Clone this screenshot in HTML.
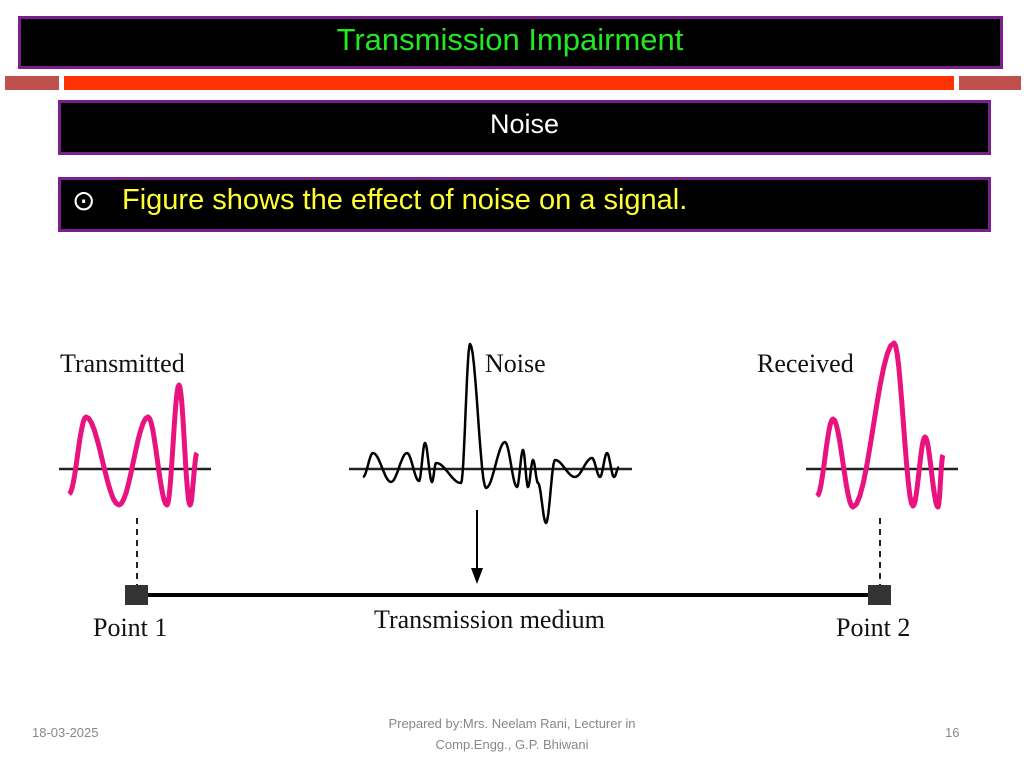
<!DOCTYPE html>
<html><head><meta charset="utf-8"><style>
body{margin:0;width:1024px;height:768px;background:#fff;position:relative;overflow:hidden;font-family:"Liberation Sans",sans-serif}
.box{position:absolute;box-sizing:border-box;background:#000;border:3px solid #7b1f8c}
.t{position:absolute;white-space:nowrap}
.serif{font-family:"Liberation Serif",serif;color:#111;font-size:26px}
</style></head><body>
<div class="box" style="left:18px;top:16px;width:985px;height:53px"></div>
<div class="t" style="left:0;width:1020px;text-align:center;top:22px;color:#22e822;font-size:31px">Transmission Impairment</div>
<div style="position:absolute;left:5px;top:76px;width:54px;height:14px;background:#c0504d"></div>
<div style="position:absolute;left:64px;top:76px;width:890px;height:14px;background:#ff3300"></div>
<div style="position:absolute;left:959px;top:76px;width:62px;height:14px;background:#c0504d"></div>
<div class="box" style="left:58px;top:100px;width:933px;height:55px"></div>
<div class="t" style="left:58px;width:933px;text-align:center;top:109px;color:#fff;font-size:27px">Noise</div>
<div class="box" style="left:58px;top:177px;width:933px;height:55px"></div>
<div class="t" style="left:72px;top:184px;color:#fff;font-size:28px;font-family:'DejaVu Sans',sans-serif">⊙</div>
<div class="t" style="left:122px;top:184px;color:#ffff33;font-size:29px">Figure shows the effect of noise on a signal.</div>

<svg id="fig" width="1024" height="768" style="position:absolute;left:0;top:0">
<line x1="59" y1="469" x2="211" y2="469" stroke="#222" stroke-width="2.5"/>
<line x1="349" y1="469" x2="632" y2="469" stroke="#222" stroke-width="2.5"/>
<line x1="806" y1="469" x2="958" y2="469" stroke="#222" stroke-width="2.5"/>
<line x1="137" y1="518" x2="137" y2="586" stroke="#222" stroke-width="2" stroke-dasharray="6,5"/>
<line x1="880" y1="518" x2="880" y2="586" stroke="#222" stroke-width="2" stroke-dasharray="6,5"/>
<line x1="137" y1="595" x2="880" y2="595" stroke="#000" stroke-width="4"/>
<rect x="125" y="585" width="23" height="20" fill="#333"/>
<rect x="868" y="585" width="23" height="20" fill="#333"/>
<line x1="477" y1="510" x2="477" y2="574" stroke="#000" stroke-width="2"/>
<polygon points="471,568 483,568 477,584" fill="#000"/>
<text x="60" y="372" font-family="Liberation Serif, serif" font-size="26" fill="#111">Transmitted</text>
<text x="485" y="372" font-family="Liberation Serif, serif" font-size="26" fill="#111">Noise</text>
<text x="757" y="372" font-family="Liberation Serif, serif" font-size="26" fill="#111">Received</text>
<text x="93" y="636" font-family="Liberation Serif, serif" font-size="26" fill="#111">Point 1</text>
<text x="374" y="628" font-family="Liberation Serif, serif" font-size="26" fill="#111">Transmission medium</text>
<text x="836" y="636" font-family="Liberation Serif, serif" font-size="26" fill="#111">Point 2</text>
</svg>

<div class="t" style="left:32px;top:725px;color:#888;font-size:13px">18-03-2025</div>
<div class="t" style="left:312px;width:400px;text-align:center;top:713px;color:#888;font-size:13px;line-height:21px;white-space:normal">Prepared by:Mrs. Neelam Rani, Lecturer in<br>Comp.Engg., G.P. Bhiwani</div>
<div class="t" style="left:945px;top:725px;color:#888;font-size:13px">16</div>

<script>
const transmittedX=[69,86,119,148,167,179,190,197];
const transmittedY=[494,417,505,417,505,385,505,453];
const noiseX=[363,373,391,407,419,425,432,436,461,470,486,505,517,523,528,533,538,546,555,575,592,600,607,614,619];
const noiseY=[477,453,482,453,481,443,482,463,483,344,488,442,487,450,487,460,483,523,460,477,458,477,453,477,467];
const receivedX=[817,833,853,894,913,925,938,943];
const receivedY=[496,419,507,343,506,437,507,455];
function wave(xs,ys){
  let d='M'+xs[0]+','+ys[0];
  for(let i=0;i<xs.length-1;i++){
    for(let k=1;k<=12;k++){
      const t=k/12,x=xs[i]+(xs[i+1]-xs[i])*t,y=ys[i]+(ys[i+1]-ys[i])*(1-Math.cos(Math.PI*t))/2;
      d+=' L'+x.toFixed(1)+','+y.toFixed(1);
    }
  }
  return d;
}
const svg=document.getElementById('fig');
function add(xs,ys,color,w,name){
  const p=document.createElementNS('http://www.w3.org/2000/svg','path');
  p.setAttribute('d',wave(xs,ys));
  p.setAttribute('fill','none');p.setAttribute('stroke',color);p.setAttribute('stroke-width',w);
  p.setAttribute('stroke-linejoin','round');
  
  
  svg.appendChild(p);
}
add(transmittedX,transmittedY,'#e8137f',5,'transmitted-signal');
add(noiseX,noiseY,'#000',2.5,'noise-signal');
add(receivedX,receivedY,'#e8137f',5,'received-signal');
</script>
</body></html>
